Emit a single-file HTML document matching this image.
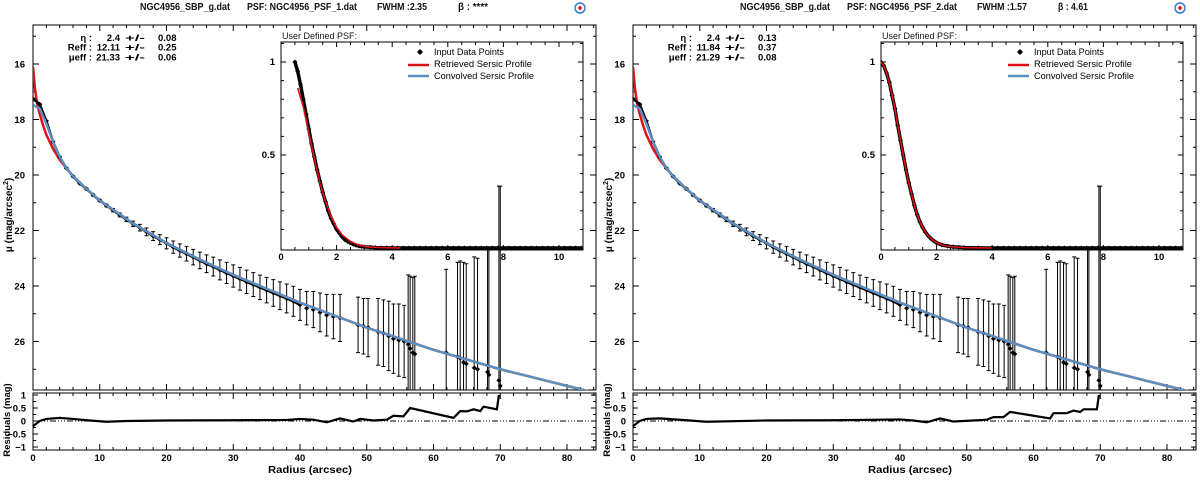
<!DOCTYPE html>
<html><head><meta charset="utf-8"><style>
html,body{margin:0;padding:0;background:#fff;overflow:hidden;width:1200px;height:480px}
svg{display:block;font-family:"Liberation Sans",sans-serif;font-weight:bold}
</style></head><body>
<svg id="c" width="1200" height="480" viewBox="0 0 1200 480" xmlns="http://www.w3.org/2000/svg"></svg>
<script>
// ---- data ----
const obsR   = [0,1,2,3,4,5,6,7,8,9,10,11,12,13,14,15,16,17,18,19,20,21,22,23,24,25,26,27,28,29,30,31,32,33,34,35,36,37,38,39,40,41,42,43,44,45,46,48.7,49.5,50.2,51.7,52.5,53.3,54,54.8,55.6,56.2,56.5,56.9,57.2,61.9,63.6,64,64.5,64.9,66.1,66.6,68.1,68.3,69.8,70];
const obsMu  = [17.25,17.45,18.05,18.8,19.35,19.75,20.05,20.3,20.5,20.72,20.92,21.1,21.27,21.44,21.6,21.76,21.9,22.05,22.2,22.33,22.46,22.6,22.72,22.84,22.96,23.08,23.2,23.3,23.42,23.53,23.64,23.74,23.85,23.95,24.05,24.15,24.25,24.35,24.45,24.55,24.68,24.8,24.85,24.95,25.05,25.1,25.15,25.4,25.45,25.5,25.65,25.7,25.8,25.9,25.95,26.0,26.1,26.25,26.4,26.45,26.4,26.55,26.6,26.75,26.8,26.95,27.0,27.1,27.2,27.4,27.6];
const obsErr = [0.01,0.01,0.01,0.01,0.01,0.02,0.02,0.02,0.03,0.03,0.04,0.05,0.06,0.07,0.08,0.1,0.12,0.14,0.16,0.18,0.2,0.22,0.24,0.26,0.28,0.3,0.32,0.34,0.36,0.38,0.4,0.41,0.42,0.43,0.44,0.46,0.48,0.5,0.52,0.54,0.56,0.6,0.65,0.7,0.75,0.8,0.85,1.0,1.0,1.05,1.2,1.2,1.25,1.25,1.3,1.3,2.5,2.6,2.7,2.8,3.0,3.4,3.5,3.6,3.6,4.0,4.0,4.5,4.5,7.0,7.2];
const redR   = [0,0.3,0.6,1,1.5,2,3,4,6,8,10,15,20,25,30,35,40,45,50,55,60,65,70,75,80,85];
const redMu  = [16.1,16.9,17.4,17.8,18.2,18.55,19.05,19.45,20.05,20.5,20.92,21.75,22.45,23.05,23.6,24.1,24.6,25.05,25.5,25.9,26.3,26.65,27.0,27.3,27.6,27.9];
const bluR   = [0,1,2,3,4,5,6,8,10,15,20,25,30,35,40,45,50,55,60,65,70,75,80,85];
const bluMu  = [17.48,17.6,18.15,18.8,19.35,19.75,20.05,20.5,20.92,21.75,22.45,23.05,23.6,24.1,24.6,25.05,25.5,25.9,26.3,26.65,27.0,27.3,27.6,27.9];
const res1R  = [0,1,2,4,6,8,11,14,20,30,38,40,42,44,46,48,49,51,53,54,55.5,56.5,63,64,65,66,67,67.5,69.5,69.8];
const res1V  = [-0.2,0,0.08,0.12,0.08,0.03,-0.03,0,0.02,0.03,0.04,0.08,0.05,-0.05,0.1,-0.02,0.08,0.02,0.05,0.2,0.18,0.5,0.12,0.38,0.37,0.45,0.38,0.55,0.45,1.0];
const res2R  = [0,1,2,4,8,11,20,30,40,42,44,46,48,51,53,54,55.5,56.5,62.5,63,65,66,67,67.5,69.5,69.8];
const res2V  = [-0.2,0,0.08,0.1,0.03,-0.03,0.02,0.03,0.06,0.02,-0.05,0.1,-0.02,0.02,0.05,0.15,0.15,0.35,0.1,0.3,0.3,0.4,0.35,0.45,0.45,1.0];
const tailX  = [4.2,4.4,4.6,4.8,5,5.2,5.4,5.6,5.8,6,6.2,6.4,6.6,6.8,7,7.2,7.4,7.6,7.8,8,8.2,8.4,8.6,8.8,9,9.2,9.4,9.6,9.8,10,10.2,10.4,10.6,10.8];
const psf1X  = [0.5,0.6,0.7,0.8,0.9,1.0,1.1,1.2,1.3,1.4,1.5,1.6,1.7,1.8,1.9,2.0,2.1,2.2,2.3,2.4,2.5,2.6,2.7,2.8,2.9,3.0,3.2,3.4,3.6,3.8,4.0];
const psf1Y  = [1.0,0.95,0.88,0.8,0.72,0.64,0.56,0.49,0.42,0.36,0.3,0.25,0.2,0.16,0.13,0.1,0.08,0.06,0.045,0.035,0.027,0.02,0.015,0.011,0.008,0.006,0.004,0.002,0.001,0.0005,0];
const fit1X  = [0.6,0.8,1.0,1.2,1.4,1.6,1.8,2.0,2.2,2.5,2.8,3.2,3.6,4.3];
const fit1Y  = [0.86,0.76,0.62,0.48,0.35,0.25,0.17,0.11,0.07,0.035,0.015,0.005,0.002,0];
const psf2X  = [0,0.1,0.2,0.3,0.4,0.5,0.6,0.7,0.8,0.9,1.0,1.1,1.2,1.3,1.4,1.5,1.6,1.7,1.8,1.9,2.0,2.2,2.4,2.6,2.8,3.0,3.5,4.0];
const psf2Y  = [1.0,0.98,0.94,0.89,0.82,0.75,0.66,0.58,0.5,0.42,0.35,0.29,0.23,0.18,0.14,0.11,0.085,0.065,0.05,0.038,0.028,0.016,0.01,0.006,0.004,0.002,0.001,0];
const xTicks = [0,10,20,30,40,50,60,70,80];
const yTicks = [16,18,20,22,24,26];
const rTicks = [1,0.5,0,-0.5,-1];
const rTickLbl = ['1','0.5','0','\u22120.5','\u22121'];
const ixTicks = [0,2,4,6,8,10];
const iyTicks = [0.5,1];

const NS='http://www.w3.org/2000/svg';
const svg=document.getElementById('c');
function el(tag,attrs,parent,txt){const e=document.createElementNS(NS,tag);for(const k in attrs)e.setAttribute(k,attrs[k]);if(txt!==undefined)e.textContent=txt;(parent||svg).appendChild(e);return e;}

const X=r=>33+r*6.675;
const Y=m=>64+(m-16)*27.75;
const RY=v=>421-v*26;
const IX=x=>281+x*27.8;
const IY=v=>248-v*186;

const defs=el('defs',{});
const cp=el('clipPath',{id:'mainclip'},defs);el('rect',{x:33,y:25,width:563,height:365},cp);
const cp2=el('clipPath',{id:'resclip'},defs);el('rect',{x:33,y:393,width:563,height:57},cp2);
const cp3=el('clipPath',{id:'inclip'},defs);el('rect',{x:281,y:42,width:302,height:208},cp3);

function panel(ox,hdr,fit,res,psfX,psfY,fitX,fitY,side){
  const g=el('g',{transform:`translate(${ox},0)`},svg);
  
  
  const h=[[140,hdr[0],90],[247,hdr[1],110],[377,hdr[2],50],[458,hdr[3],hdr[3].length>6?30:27]];
  h.forEach(t=>{const e=el('text',{x:t[0],y:10,'font-size':10,fill:'#111',textLength:t[2],lengthAdjust:'spacingAndGlyphs'},g,t[1]);
    });
  const ic=el('g',{},g);
  el('circle',{cx:580,cy:8,r:5,fill:'#fff',stroke:'#3a7bd5','stroke-width':1.5},ic);
  el('circle',{cx:580,cy:8,r:1.7,fill:'#d00'},ic);

  const ins=el('g',{},g);
  el('text',{x:282,y:39,'font-size':9.5,'font-weight':'normal',fill:'#111',textLength:75,lengthAdjust:'spacingAndGlyphs'},ins,'User Defined PSF:');
  el('rect',{x:281,y:42,width:302,height:208,fill:'#fff',stroke:'#000','stroke-width':1},ins);
  for(let x=0.5;x<10.9;x+=0.5){const maj=Math.abs(x/2-Math.round(x/2))<1e-6;const L=maj?5:3;
    el('line',{x1:IX(x),x2:IX(x),y1:250,y2:250-L,stroke:'#000'},ins);el('line',{x1:IX(x),x2:IX(x),y1:42,y2:42+L,stroke:'#000'},ins);}
  for(let v=0.1;v<1.1;v+=0.1){const maj=Math.abs(v*2-Math.round(v*2))<1e-6;const L=maj?5:3;
    el('line',{x1:281,x2:281+L,y1:IY(v),y2:IY(v),stroke:'#000'},ins);el('line',{x1:583,x2:583-L,y1:IY(v),y2:IY(v),stroke:'#000'},ins);}
  ixTicks.forEach(t=>{el('text',{x:IX(t),y:260,'font-size':9.5,'text-anchor':'middle'},ins,String(t));});
  iyTicks.forEach(t=>{el('text',{x:275,y:IY(t)+3,'font-size':9.5,'text-anchor':'end'},ins,String(t));});
  const ic2=el('g',{'clip-path':'url(#inclip)'},ins);
  const ip=el('polyline',{points:psfX.map((x,i)=>IX(x)+','+IY(psfY[i])).join(' ')+' '+tailX.map(x=>IX(x)+','+IY(0)).join(' '),fill:'none',stroke:'#000','stroke-width':3.5},ic2);
  
  psfX.concat(tailX).forEach((x,i)=>{const v=i<psfX.length?psfY[i]:0;const cx=IX(x),cy=IY(v);
    const d=el('path',{d:`M${cx},${cy-2.5}L${cx+2.5},${cy}L${cx},${cy+2.5}L${cx-2.5},${cy}Z`,fill:'#000'},ic2);
    });
  const fp=el('polyline',{points:fitX.map((x,i)=>IX(x)+','+IY(fitY[i])).join(' '),fill:'none',stroke:'#e01018','stroke-width':1.6},ic2);
  
  const lg=el('g',{},ins);
  el('path',{d:'M420,49L423,52L420,55L417,52Z',fill:'#000'},lg);
  el('text',{x:434,y:55,'font-size':9.5,'font-weight':'normal',textLength:70,lengthAdjust:'spacingAndGlyphs'},lg,'Input Data Points');
  el('line',{x1:408,x2:429,y1:65,y2:65,stroke:'#e01018','stroke-width':2.5},lg);
  el('text',{x:434,y:67,'font-size':9.5,'font-weight':'normal',textLength:98,lengthAdjust:'spacingAndGlyphs'},lg,'Retrieved Sersic Profile');
  el('line',{x1:408,x2:429,y1:76,y2:76,stroke:'#5b8fc0','stroke-width':2.5},lg);
  el('text',{x:434,y:79,'font-size':9.5,'font-weight':'normal',textLength:100,lengthAdjust:'spacingAndGlyphs'},lg,'Convolved Sersic Profile');

  const mf=el('rect',{x:33,y:25,width:563,height:365,fill:'none',stroke:'#000','stroke-width':1},g);
  
  for(let r=2;r<84.5;r+=2){const maj=r%10===0;const L=maj?6:3;
    el('line',{x1:X(r),x2:X(r),y1:390,y2:390-L,stroke:'#000'},g);el('line',{x1:X(r),x2:X(r),y1:25,y2:25+L,stroke:'#000'},g);
    el('line',{x1:X(r),x2:X(r),y1:450,y2:450-L,stroke:'#000'},g);el('line',{x1:X(r),x2:X(r),y1:393,y2:393+L,stroke:'#000'},g);}
  for(let m=15;m<=27;m++){const maj=m%2===0;const L=maj?6:3;
    el('line',{x1:33,x2:33+L,y1:Y(m),y2:Y(m),stroke:'#000'},g);el('line',{x1:596,x2:596-L,y1:Y(m),y2:Y(m),stroke:'#000'},g);}
  yTicks.forEach(t=>{const e=el('text',{x:25,y:Y(t)+3.5,'font-size':9.5,'text-anchor':'end'},g,String(t));
    });
  const yt=el('text',{x:0,y:0,'font-size':10,'text-anchor':'middle',transform:`translate(12,215) rotate(-90)`},g);
  
  yt.innerHTML='\u03bc (mag/arcsec<tspan dy="-4" font-size="7">2</tspan><tspan dy="4">)</tspan>';
  const fp2=el('g',{'font-size':9.5},g);
  const lbl=['\u03b7 :','Reff :','\u03bceff :'];
  lbl.forEach((l,i)=>{const y=41+i*9.7;
    el('text',{x:92,y:y,'text-anchor':'end'},fp2,l);
    el('text',{x:120,y:y,'text-anchor':'end'},fp2,fit[i][0]);
    el('text',{x:125,y:y,textLength:20,lengthAdjust:'spacingAndGlyphs'},fp2,'+/-');
    el('text',{x:158,y:y},fp2,fit[i][1]);});

  const mc=el('g',{'clip-path':'url(#mainclip)'},g);
  const rl=el('polyline',{points:redR.map((r,i)=>X(r)+','+Y(redMu[i])).join(' '),fill:'none',stroke:'#e01018','stroke-width':2.5},mc);
  
  const ol=el('polyline',{points:obsR.slice(0,41).map((r,i)=>X(r)+','+Y(obsMu[i])).join(' '),fill:'none',stroke:'#000','stroke-width':2.5},mc);
  
  obsR.forEach((r,i)=>{const x=X(r),y=Y(obsMu[i]),y1=Y(obsMu[i]-obsErr[i]),y2=Y(obsMu[i]+obsErr[i]);
    const e=el('path',{d:`M${x},${y1}L${x},${y2}M${x-2},${y1}L${x+2},${y1}M${x-2},${y2}L${x+2},${y2}`,stroke:'#000','stroke-width':1,fill:'none'},mc);
    
    const d=el('path',{d:`M${x},${y-2.5}L${x+2.5},${y}L${x},${y+2.5}L${x-2.5},${y}Z`,fill:'#000'},mc);
    });
  const bl=el('polyline',{points:bluR.map((r,i)=>X(r)+','+Y(bluMu[i])).join(' '),fill:'none',stroke:'#5b8fc0','stroke-width':2.5},mc);
  

  const rf=el('rect',{x:33,y:393,width:563,height:57,fill:'none',stroke:'#000'},g);
  
  for(let v=-1;v<=1.001;v+=0.25){const maj=Math.abs(v*2-Math.round(v*2))<1e-6;const L=maj?5:3;
    el('line',{x1:33,x2:33+L,y1:RY(v),y2:RY(v),stroke:'#000'},g);el('line',{x1:596,x2:596-L,y1:RY(v),y2:RY(v),stroke:'#000'},g);}
  rTicks.forEach((t,i)=>{el('text',{x:26,y:RY(t)+3.5,'font-size':9.5,'text-anchor':'end'},g,rTickLbl[i]);});
  const rt=el('text',{x:0,y:0,'font-size':9.5,'text-anchor':'middle',transform:`translate(10,420) rotate(-90)`},g,'Residuals (mag)');
  
  el('line',{x1:33,x2:596,y1:RY(0),y2:RY(0),stroke:'#000','stroke-dasharray':'6,2,1,2,1,2,1,2'},g);
  const rc=el('g',{'clip-path':'url(#resclip)'},g);
  const rp=el('polyline',{points:res.r.map((r,i)=>X(r)+','+RY(res.v[i])).join(' '),fill:'none',stroke:'#000','stroke-width':2.2},rc);
  
  xTicks.forEach(t=>{const e=el('text',{x:X(t),y:461,'font-size':9.5,'text-anchor':'middle'},g,String(t));
    });
  const xt=el('text',{x:310,y:473,'font-size':10,'text-anchor':'middle',textLength:84,lengthAdjust:'spacingAndGlyphs'},g,'Radius (arcsec)');
  
}

panel(0,['NGC4956_SBP_g.dat','PSF: NGC4956_PSF_1.dat','FWHM :2.35','\u03b2 : ****'],
  [['2.4','0.08'],['12.11','0.25'],['21.33','0.06']],{r:res1R,v:res1V},psf1X,psf1Y,fit1X,fit1Y,'left');
panel(600,['NGC4956_SBP_g.dat','PSF: NGC4956_PSF_2.dat','FWHM :1.57','\u03b2 : 4.61'],
  [['2.4','0.13'],['11.84','0.37'],['21.29','0.08']],{r:res2R,v:res2V},psf2X,psf2Y,psf2X,psf2Y,'right');
</script>
</body></html>
